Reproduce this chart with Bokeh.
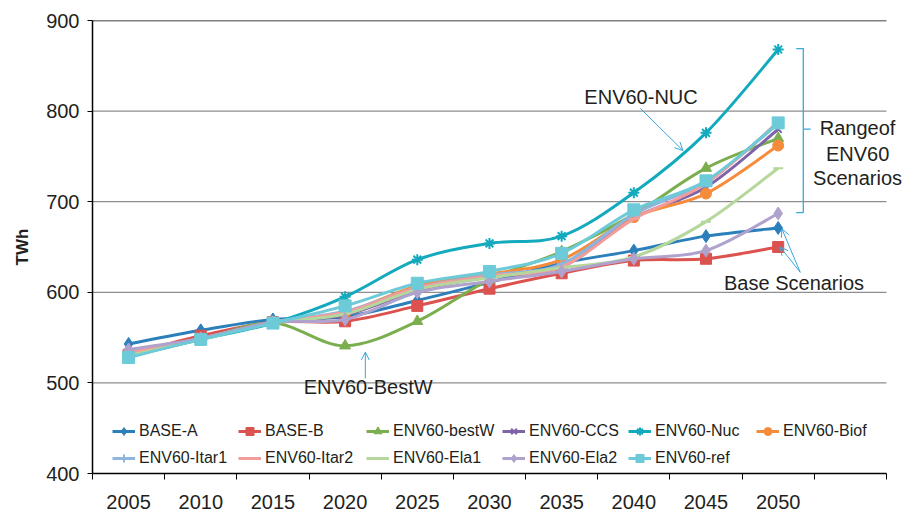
import numpy as np
from bokeh.plotting import figure
from bokeh.models import (Range1d, FixedTicker, Label, Arrow, OpenHead,
                          Legend, LegendItem)
from bokeh.embed import file_html
from bokeh.resources import INLINE

# ---------------- data ----------------
years = [2005, 2010, 2015, 2020, 2025, 2030, 2035, 2040, 2045, 2050]
y_ticks = [400, 500, 600, 700, 800, 900]

base_a = [543, 558, 570, 573, 591, 611, 632, 646, 662, 671]
base_b = [531, 552, 567, 568, 585, 604, 621, 635, 637, 650]
env_bestw = [529, 548, 566, 541, 568, 614, 645, 686, 737, 770]
env_ccs = [532, 549, 567, 575, 602, 617, 628, 682, 716, 780]
env_nuc = [530, 548, 566, 595, 636, 654, 662, 710, 776, 868]
env_biof = [533, 549, 567, 578, 607, 620, 636, 683, 709, 762]
env_itar1 = [532, 549, 567, 579, 605, 619, 631, 686, 722, 786]
env_itar2 = [533, 549, 567, 578, 605, 618, 628, 681, 720, 788]
env_ela1 = [530, 548, 566, 576, 603, 616, 627, 639, 678, 737]
env_ela2 = [537, 549, 567, 570, 600, 612, 623, 637, 646, 687]
env_ref = [528, 548, 566, 585, 610, 623, 643, 691, 723, 787]

names = ["BASE-A", "BASE-B", "ENV60-bestW", "ENV60-CCS", "ENV60-Nuc", "ENV60-Biof",
         "ENV60-Itar1", "ENV60-Itar2", "ENV60-Ela1", "ENV60-Ela2", "ENV60-ref"]
values = [base_a, base_b, env_bestw, env_ccs, env_nuc, env_biof,
          env_itar1, env_itar2, env_ela1, env_ela2, env_ref]
colors = ["#2B80BC", "#DC524E", "#7BAE4E", "#7E63A9", "#12AABC", "#F68C3B",
          "#8DB5DD", "#F29D9C", "#B5D79C", "#AFA2CC", "#6DCAD8"]
markers = ["diamond", "square", "triangle", "x", "asterisk", "circle",
           "cross", "dash", "dash", "diamond", "square"]
msizes = [13, 11, 11, 10, 11, 11, 10, 10, 10, 13, 12]

FONT = "Liberation Sans"
TXT = "#231F20"
ANN = "#3AA7DA"

# category slots: 11 slots of 5 years (last one empty)
X_START = years[0] - 2.5
X_AXIS_END = years[-1] + 7.5
X_VIEW_END = 2058.82  # a little room to the right for the side annotation text

# ---------------- figure ----------------
p = figure(width=906, height=512, output_backend="svg", toolbar_location=None,
           x_range=Range1d(X_START, X_VIEW_END), y_range=Range1d(400, 900),
           min_border_left=92, min_border_right=1, min_border_top=20,
           min_border_bottom=39)
p.outline_line_color = None
p.background_fill_color = "white"
p.border_fill_color = "white"

# axes
xa = p.xaxis[0]
xa.bounds = (X_START, X_AXIS_END)
xa.ticker = FixedTicker(ticks=years, minor_ticks=[y - 2.5 for y in years] + [years[-1] + 2.5, X_AXIS_END])
xa.major_tick_out = 0
xa.major_tick_in = 0
xa.minor_tick_out = 6
xa.minor_tick_in = 0
xa.minor_tick_line_color = "black"
xa.axis_line_color = "black"
xa.axis_line_width = 1.3
xa.major_label_text_font = FONT
xa.major_label_text_font_size = "20px"
xa.major_label_text_color = TXT
xa.major_label_standoff = 15

ya = p.yaxis[0]
ya.ticker = FixedTicker(ticks=y_ticks)
ya.major_tick_out = 5
ya.major_tick_in = 0
ya.minor_tick_line_color = None
ya.axis_line_color = "black"
ya.axis_line_width = 1.5
ya.major_label_text_font = FONT
ya.major_label_text_font_size = "20px"
ya.major_label_text_color = TXT
ya.major_label_standoff = 8
ya.axis_label = "TWh"
ya.axis_label_text_font = FONT
ya.axis_label_text_font_size = "17px"
ya.axis_label_text_font_style = "bold"
ya.axis_label_text_color = TXT
ya.axis_label_standoff = 11

p.xgrid.grid_line_color = None
p.ygrid.grid_line_color = None

# horizontal grid lines limited to the axis extent
grid_vals = y_ticks[1:-1]
p.segment(x0=[X_START] * len(grid_vals), y0=grid_vals,
          x1=[X_AXIS_END] * len(grid_vals), y1=grid_vals,
          line_color="#8E8E8E", line_width=1.2)
p.segment(x0=[X_START], y0=[y_ticks[-1]], x1=[X_AXIS_END], y1=[y_ticks[-1]],
          line_color="black", line_width=1.3)

# ---------------- series (smoothed via bezier) ----------------
def bezier_ctrl(xs, ys):
    x = np.asarray(xs, float)
    y = np.asarray(ys, float)
    n = len(x)
    xp = np.concatenate([[x[0]], x, [x[-1]]])
    yp = np.concatenate([[y[0]], y, [y[-1]]])
    cx0 = x[:-1] + (xp[2:n + 1] - xp[0:n - 1]) / 6.0
    cy0 = y[:-1] + (yp[2:n + 1] - yp[0:n - 1]) / 6.0
    cx1 = x[1:] - (xp[3:n + 2] - xp[1:n]) / 6.0
    cy1 = y[1:] - (yp[3:n + 2] - yp[1:n]) / 6.0
    return dict(x0=x[:-1], y0=y[:-1], x1=x[1:], y1=y[1:],
                cx0=cx0, cy0=cy0, cx1=cx1, cy1=cy1)

items = []
for name, vals, col, mk, ms in zip(names, values, colors, markers, msizes):
    c = bezier_ctrl(years, vals)
    rl = p.bezier(x0=c["x0"], y0=c["y0"], x1=c["x1"], y1=c["y1"],
                  cx0=c["cx0"], cy0=c["cy0"], cx1=c["cx1"], cy1=c["cy1"],
                  line_color=col, line_width=3)
    rm = p.scatter(x=years, y=vals, marker=mk, size=ms, fill_color=col,
                   line_color=col, line_width=2 if mk in ("x", "asterisk", "cross", "dash") else 1)
    items.append(LegendItem(label=name, renderers=[rl, rm]))

# legend: 6 columns, 2 rows
col_x = [20, 146, 274, 410, 536, 664]
for i, cx in enumerate(col_x):
    its = [items[i]] + ([items[i + 6]] if i + 6 < len(items) else [])
    lg = Legend(items=its, location=(cx, 5 if len(its) == 2 else 32),
                orientation="vertical", padding=0, margin=0, spacing=7,
                glyph_width=23, glyph_height=20, label_height=20, label_standoff=4,
                label_text_font=FONT, label_text_font_size="16px",
                label_text_color=TXT, border_line_color=None,
                background_fill_alpha=0)
    p.add_layout(lg)

# ---------------- annotations ----------------
def lbl(x, y, t, size="20px"):
    p.add_layout(Label(x=x, y=y, text=t, text_font=FONT, text_font_size=size,
                       text_color=TXT, text_align="center", text_baseline="middle"))

lbl(2040.5, 816, "ENV60-NUC")
lbl(2021.6, 495, "ENV60-BestW")
lbl(2051.1, 610, "Base Scenarios")
lbl(2055.5, 781, "Rangeof")
lbl(2055.5, 753, "ENV60")
lbl(2055.5, 726, "Scenarios")

arrows = [
    (2040.45, 803, 2043.4, 756.5),
    (2021.4, 505, 2021.4, 534),
    (2051.53, 622, 2050.26, 670),
    (2051.53, 622, 2050.14, 650),
]
for xs, ys, xe, ye in arrows:
    p.add_layout(Arrow(end=OpenHead(size=8, line_color=ANN, line_width=1),
                       x_start=xs, y_start=ys, x_end=xe, y_end=ye,
                       line_color=ANN, line_width=1))

# bracket for ENV60 range
br_x = [2051.25, 2051.74, 2051.74, 2051.25]
br_y = [869, 869, 688, 688]
p.line(br_x, br_y, line_color=ANN, line_width=1.3)
p.line([2051.74, 2052.25], [780, 780], line_color=ANN, line_width=1.3)

open("out.html", "w").write(file_html(p, INLINE))
